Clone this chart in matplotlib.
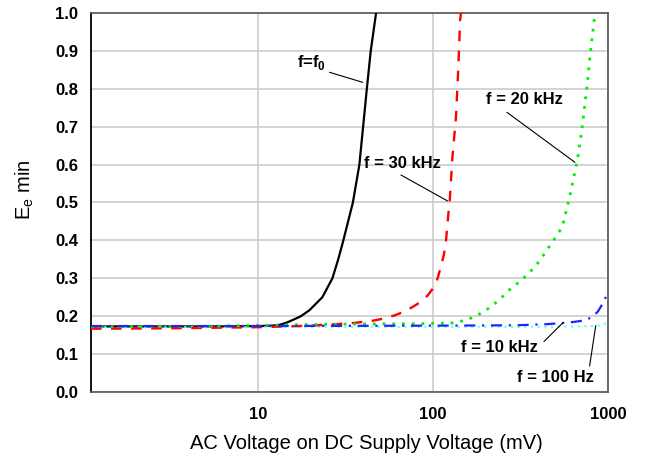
import matplotlib
matplotlib.use("Agg")
import matplotlib.pyplot as plt

plt.rcParams['font.family'] = ['Liberation Sans', 'DejaVu Sans']
plt.rcParams['mathtext.fontset'] = 'custom'
plt.rcParams['mathtext.rm'] = 'Liberation Sans'
plt.rcParams['mathtext.bf'] = 'Liberation Sans:bold'

## Data (x in mV, y = Ee min)
f0_x = [1.1, 3, 6, 10, 12, 13.2, 14.5, 15.7, 17.5, 19.6, 23.2, 26.5, 28.6, 30.6, 34.7, 37.8,
        39.7, 41.7, 43.9, 47.1]
f0_y = [0.173, 0.173, 0.173, 0.174, 0.175, 0.177, 0.183, 0.19, 0.2, 0.216, 0.25, 0.3, 0.35, 0.4,
        0.5, 0.6, 0.7, 0.8, 0.9, 1.0]

f30k_x = [1.1, 3, 10, 20, 35, 45, 52.5, 60, 68.2, 76, 85, 93, 100, 106, 110.6, 115, 118, 121.7,
          124.4, 128.8, 135, 139, 142.5, 144]
f30k_y = [0.167, 0.168, 0.171, 0.175, 0.182, 0.188, 0.194, 0.202, 0.212, 0.224, 0.238, 0.255, 0.274,
          0.3, 0.331, 0.362, 0.392, 0.463, 0.507, 0.62, 0.726, 0.85, 0.98, 1.0]

f20k_x = [1.1, 5, 10, 30, 80, 130, 154.6, 175, 201, 235, 272, 310, 354, 405, 460, 505, 548, 598,
          668, 713, 762, 796, 843]
f20k_y = [0.172, 0.173, 0.176, 0.179, 0.18, 0.182, 0.19, 0.2, 0.216, 0.24, 0.269, 0.29, 0.314, 0.345,
          0.383, 0.41, 0.436, 0.507, 0.612, 0.7, 0.815, 0.902, 1.0]

f10k_x = [1.1, 10, 100, 300, 450, 548, 640, 713, 780, 834, 875, 910, 950, 990, 1000]
f10k_y = [0.174, 0.174, 0.175, 0.176, 0.179, 0.182, 0.185, 0.188, 0.194, 0.203, 0.212, 0.225, 0.24,
          0.26, 0.265]

f100_x = [1.1, 10, 100, 500, 850, 950, 1000]
f100_y = [0.171, 0.171, 0.172, 0.172, 0.174, 0.179, 0.184]

x_ticks = [10, 100, 1000]
x_ticklabels = ['10', '100', '1000']
y_ticks = [0.0, 0.1, 0.2, 0.3, 0.4, 0.5, 0.6, 0.7, 0.8, 0.9, 1.0]

fig = plt.figure(figsize=(6.45, 4.59), dpi=100)
ax = fig.add_axes([0.141, 0.146, 0.8016, 0.8257])

ax.plot(f0_x, f0_y, color='black', lw=1.6, zorder=3)
ax.plot(f100_x, f100_y, color='#66ffff', lw=1.6, linestyle=(0, (1, 2)), zorder=3)
ax.plot(f30k_x, f30k_y, color='#ff0000', lw=1.7, linestyle=(0, (4.5, 4)), zorder=3)
ax.plot(f20k_x, f20k_y, color='#00ee00', lw=2.0, linestyle=(0, (1, 2.5)), zorder=3)
ax.plot(f10k_x, f10k_y, color='#2222ff', lw=1.6, linestyle=(0, (5, 3, 1, 3)), zorder=3)

ax.set_xscale('log')
ax.set_xlim(1.1, 1000)
ax.set_ylim(0, 1.0)
ax.set_xticks(x_ticks)
ax.set_xticklabels(x_ticklabels)
ax.xaxis.set_minor_locator(matplotlib.ticker.NullLocator())
ax.set_yticks(y_ticks)
ax.set_yticklabels(['%.1f' % v for v in y_ticks])
ax.tick_params(length=0, labelsize=12, pad=9)
ax.tick_params(axis='x', pad=11)
for lbl in ax.get_xticklabels() + ax.get_yticklabels():
    lbl.set_fontweight('bold')

ax.grid(True, color='#cccccc', lw=1.2)
ax.set_axisbelow(True)
for side in ['top', 'right', 'bottom']:
    ax.spines[side].set_color('#555555')
    ax.spines[side].set_linewidth(1.2)
ax.spines['left'].set_color('black')
ax.spines['left'].set_linewidth(1.3)

ax.set_xlabel('AC Voltage on DC Supply Voltage (mV)', fontsize=14.5)
ax.xaxis.set_label_coords(0.532, -0.135)
ax.xaxis.label.set_va('center')
ax.set_ylabel(r'E$_\mathregular{e}$ min', fontsize=14.5)
ax.yaxis.set_label_coords(-0.128, 0.535)
ax.yaxis.label.set_va('center')

## Curve labels with leader lines
labels = [
    (r'f=f$_\mathbf{0}$', 'right', (24.5, 0.858), (25.5, 0.8435), (39.5, 0.817)),
    ('f = 30 kHz', 'left', (40.4, 0.591), (65.3, 0.5726), (120.8, 0.504)),
    ('f = 20 kHz', 'left', (201, 0.76), (264, 0.738), (647, 0.606)),
    ('f = 10 kHz', 'left', (144, 0.106), (430, 0.133), (553, 0.183)),
    ('f = 100 Hz', 'left', (303, 0.027), (785, 0.0686), (851, 0.175)),
]
for txt, ha, tpos, p0, p1 in labels:
    ax.text(tpos[0], tpos[1], txt, ha=ha, va='baseline', fontsize=12, fontweight='bold', zorder=5)
    ax.annotate('', xy=p1, xytext=p0,
                arrowprops=dict(arrowstyle='-', lw=0.8, color='black', shrinkA=0, shrinkB=0), zorder=5)

fig.savefig('out.png', dpi=100)
